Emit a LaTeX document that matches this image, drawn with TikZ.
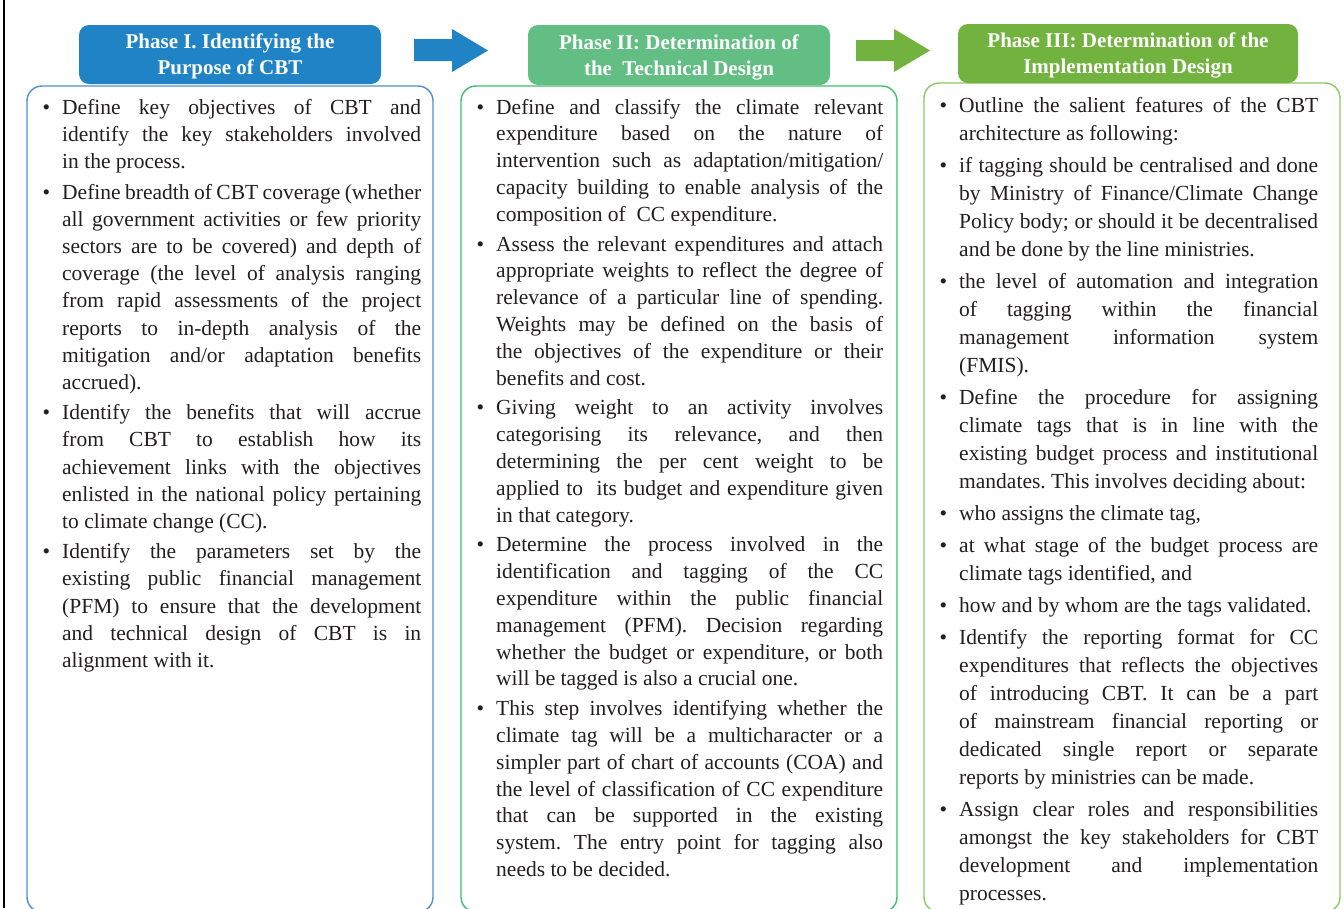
\documentclass[tikz,border=0pt]{standalone}
\usepackage{fontspec}
\setmainfont{Liberation Serif}
\frenchspacing
\definecolor{hblue}{HTML}{1F83C5}
\definecolor{bblue}{HTML}{4F8FCF}
\definecolor{hgreen}{HTML}{62BE82}
\definecolor{bgreen}{HTML}{3DBF6E}
\definecolor{hlime}{HTML}{71B33E}
\definecolor{blime}{HTML}{8DC764}
\definecolor{txt}{HTML}{231F20}
\newcommand\bitem[1]{\par\noindent\hangindent=22pt\hangafter=0\llap{\textbullet\hspace{12pt}}\strut#1\par}
\tikzset{
  head/.style={fill=#1, rounded corners=10pt, text=white, inner sep=0pt, align=center,
    text depth=0pt, font=\bfseries\fontsize{21}{26}\selectfont},
  panel/.style={draw=#1, line width=1.4pt, rounded corners=15pt, inner sep=0pt},
  coltext/.style={anchor=north west, inner sep=0pt, text width=#1, align=justify, text=txt},
  blockarrow/.style={fill=#1}
}
\begin{document}
\begin{tikzpicture}[x=1pt,y=-1pt]
\clip (0,0) rectangle (1344,908);
\fill[white] (0,0) rectangle (1344,908);
\draw[line width=1.5pt, black] (4,0) -- (4,908);
% panels
\node[panel=bblue, minimum width=406pt, minimum height=826pt] (b1) at (230,499) {};
\node[panel=bgreen, minimum width=436pt, minimum height=826pt] (b2) at (679,499) {};
\node[panel=blime, minimum width=416pt, minimum height=829pt] (b3) at (1132,497.5) {};
% headers
\node[head=hblue, minimum width=302pt, minimum height=59pt] (h1) at (230,54.5) {Phase I. Identifying the\\Purpose of CBT};
\node[head=hgreen, minimum width=302pt, minimum height=60pt] (h2) at (679,55) {Phase II: Determination of\\the\ \ Technical Design};
\node[head=hlime, minimum width=340pt, minimum height=59pt] (h3) at (1128,53.5) {Phase III: Determination of the\\Implementation Design};
% block arrows
\fill[blockarrow=hblue] (414,39) -- (452,39) -- (452,29) -- (488,50.5) -- (452,72) -- (452,61) -- (414,61) -- cycle;
\fill[blockarrow=hlime] (856,40) -- (894,40) -- (894,29) -- (930,50.5) -- (894,72) -- (894,61) -- (856,61) -- cycle;
% column 1
\node[coltext=381pt] (t1) at (40,84) {\fontsize{21.5}{27.2}\selectfont
\hbadness=10000 \tolerance=10000 \hyphenpenalty=10000 \setlength{\parskip}{3pt}%
\bitem{Define key objectives of CBT and\linebreak identify the key stakeholders involved\linebreak in the process.}
\bitem{Define breadth of CBT coverage (whether\linebreak all government activities or few priority\linebreak sectors are to be covered) and depth of\linebreak coverage (the level of analysis ranging\linebreak from rapid assessments of the project\linebreak reports to in-depth analysis of the\linebreak mitigation and/or adaptation benefits\linebreak accrued).}
\bitem{Identify the benefits that will accrue\linebreak from CBT to establish how its\linebreak achievement links with the objectives\linebreak enlisted in the national policy pertaining\linebreak to climate change (CC).}
\bitem{Identify the parameters set by the\linebreak existing public financial management\linebreak (PFM) to ensure that the development\linebreak and technical design of CBT is in\linebreak alignment with it.}
};
% column 2
\node[coltext=409pt] (t2) at (474,84) {\fontsize{21.5}{26.8}\selectfont
\hbadness=10000 \tolerance=10000 \hyphenpenalty=10000 \setlength{\parskip}{3pt}%
\bitem{Define and classify the climate relevant\linebreak expenditure based on the nature of\linebreak intervention such as adaptation/mitigation/\linebreak capacity building to enable analysis of the\linebreak composition of\ \ CC expenditure.}
\bitem{Assess the relevant expenditures and attach\linebreak appropriate weights to reflect the degree of\linebreak relevance of a particular line of spending.\linebreak Weights may be defined on the basis of\linebreak the objectives of the expenditure or their\linebreak benefits and cost.}
\bitem{Giving weight to an activity involves\linebreak categorising its relevance, and then\linebreak determining the per cent weight to be\linebreak applied to\ \ its budget and expenditure given\linebreak in that category.}
\bitem{Determine the process involved in the\linebreak identification and tagging of the CC\linebreak expenditure within the public financial\linebreak management (PFM). Decision regarding\linebreak whether the budget or expenditure, or both\linebreak will be tagged is also a crucial one.}
\bitem{This step involves identifying whether the\linebreak climate tag will be a multicharacter or a\linebreak simpler part of chart of accounts (COA) and\linebreak the level of classification of CC expenditure\linebreak that can be supported in the existing\linebreak system. The entry point for tagging also\linebreak needs to be decided.}
};
% column 3
\node[coltext=381pt] (t3) at (937,80.5) {\fontsize{21.5}{28}\selectfont
\hbadness=10000 \tolerance=10000 \hyphenpenalty=10000 \setlength{\parskip}{4pt}%
\bitem{Outline the salient features of the CBT\linebreak architecture as following:}
\bitem{if tagging should be centralised and done\linebreak by Ministry of Finance/Climate Change\linebreak Policy body; or should it be decentralised\linebreak and be done by the line ministries.}
\bitem{the level of automation and integration\linebreak of tagging within the financial\linebreak management information system\linebreak (FMIS).}
\bitem{Define the procedure for assigning\linebreak climate tags that is in line with the\linebreak existing budget process and institutional\linebreak mandates. This involves deciding about:}
\bitem{who assigns the climate tag,}
\bitem{at what stage of the budget process are\linebreak climate tags identified, and}
\bitem{how and by whom are the tags validated.}
\bitem{Identify the reporting format for CC\linebreak expenditures that reflects the objectives\linebreak of introducing CBT. It can be a part\linebreak of mainstream financial reporting or\linebreak dedicated single report or separate\linebreak reports by ministries can be made.}
\bitem{Assign clear roles and responsibilities\linebreak amongst the key stakeholders for CBT\linebreak development and implementation\linebreak processes.}
};
\end{tikzpicture}
\end{document}
